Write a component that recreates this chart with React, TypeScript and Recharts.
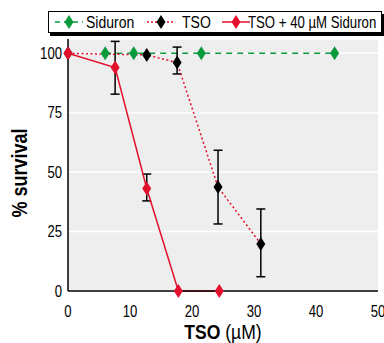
import { LineChart, Line, XAxis, YAxis, CartesianGrid, ErrorBar } from 'recharts'

document.body.style.margin = '0'

const FONT = "'Liberation Sans', Arial, sans-serif"
const GREEN = '#0a9a3e'
const RED = '#e3102d'

const xTicks = [0, 10, 20, 30, 40, 50]
const yTicks = [0, 25, 50, 75, 100]

// Siduron alone
const siduronX = [6.0, 10.6, 21.5, 43.0]
const siduronY = [100, 100, 100, 100]

// TSO alone
const tsoX = [0, 12.7, 17.6, 24.2, 31.1]
const tsoY = [100, 99.3, 96.1, 43.7, 19.8]
const tsoLow = [null, null, 91.3, 28.2, 6.0]
const tsoHigh = [null, null, 102.6, 59.2, 34.5]

// TSO + 40 µM Siduron
const comboX = [0, 7.6, 12.7, 17.8, 24.4]
const comboY = [100, 94.0, 43.1, 0, 0]
const comboLow = [null, 82.8, 37.9, null, null]
const comboHigh = [null, 105.0, 49.2, null, null]

type Pt = { x: number; y: number; err?: [number, number] }

function build(xs: number[], ys: number[], lo?: (number | null)[], hi?: (number | null)[]): Pt[] {
  return xs.map((x, i) => {
    const p: Pt = { x, y: ys[i] }
    if (lo && hi && lo[i] != null && hi[i] != null) {
      p.err = [ys[i] - (lo[i] as number), (hi[i] as number) - ys[i]]
    }
    return p
  })
}

const siduronData = build(siduronX, siduronY)
const tsoData = build(tsoX, tsoY, tsoLow, tsoHigh)
const comboData = build(comboX, comboY, comboLow, comboHigh)

// condensed look: squeeze text horizontally
function Narrow({ x, y, size, squeeze = 0.82, anchor = 'start', rotate = 0, bold = false, children }: any) {
  return (
    <text
      transform={`translate(${x} ${y}) rotate(${rotate}) scale(${squeeze} 1)`}
      textAnchor={anchor}
      fontFamily={FONT}
      fontSize={size}
      fontWeight={bold ? 'bold' : 'normal'}
      fill="#000"
    >
      {children}
    </text>
  )
}

function XTick({ x, y, payload }: any) {
  return <Narrow x={x} y={y + 18} size={16} anchor="middle">{payload.value}</Narrow>
}

function YTick({ x, y, payload }: any) {
  return <Narrow x={x} y={y + 5.5} size={16} anchor="end">{payload.value}</Narrow>
}

function diamond(fill: string) {
  return (props: any) => {
    const { cx, cy, index } = props
    if (cx == null || cy == null) return <g key={index} />
    return (
      <polygon
        key={index}
        points={`${cx},${cy - 7} ${cx + 4.5},${cy} ${cx},${cy + 7} ${cx - 4.5},${cy}`}
        fill={fill}
      />
    )
  }
}

function LegendIcon({ x, color, dash, dot }: { x: number; color: string; dash?: string; dot: string }) {
  return (
    <g>
      <line x1={x - 14} x2={x + 14} y1={10} y2={10} stroke={color} strokeWidth={1.5} strokeDasharray={dash} />
      <polygon points={`${x},${3} ${x + 4.5},${10} ${x},${17} ${x - 4.5},${10}`} fill={dot} />
    </g>
  )
}

function LegendBox() {
  return (
    <div
      style={{
        position: 'absolute',
        top: 11,
        left: 48,
        width: 332,
        height: 20,
        border: '1px solid #000',
        boxShadow: '2px 3px 0 #000',
        background: '#fff',
      }}
    >
      <svg width={332} height={20} style={{ display: 'block' }}>
        <LegendIcon x={20} color={GREEN} dash="5 4" dot={GREEN} />
        <Narrow x={37} y={16} size={16.5} squeeze={0.85}>Siduron</Narrow>
        <LegendIcon x={112} color={RED} dash="2 2" dot="#000" />
        <Narrow x={133} y={16} size={16.5} squeeze={0.85}>TSO</Narrow>
        <LegendIcon x={187} color={RED} dot={RED} />
        <Narrow x={199} y={16} size={16.5} squeeze={0.8}>TSO + 40 µM Siduron</Narrow>
      </svg>
    </div>
  )
}

export default function App() {
  return (
    <div style={{ position: 'relative', width: 384, height: 343 }}>
      <LineChart width={384} height={343} margin={{ top: 39, right: 6, left: 0, bottom: 0 }}>
        <CartesianGrid vertical={false} stroke="#ffffff" strokeWidth={1.5} fill="#eeeeee" />
        <XAxis
          type="number"
          dataKey="x"
          domain={[0, 50]}
          ticks={xTicks}
          interval={0}
          height={52}
          tickLine={false}
          axisLine={{ stroke: '#000', strokeWidth: 1.5 }}
          tick={<XTick />}
          label={{
            content: () => (
              <text transform="translate(223 339) scale(0.9 1)" textAnchor="middle" fontFamily={FONT} fontSize={19.5} fill="#000">
                <tspan fontWeight="bold">TSO</tspan>
                <tspan> (µM)</tspan>
              </text>
            ),
          }}
        />
        <YAxis
          type="number"
          domain={[0, 106]}
          ticks={yTicks}
          interval={0}
          width={68}
          tickLine={false}
          axisLine={{ stroke: '#000', strokeWidth: 1.5 }}
          tick={<YTick />}
          tickSize={0}
          tickMargin={6}
          label={{
            content: () => (
              <Narrow x={27} y={173} size={22} bold anchor="middle" rotate={-90}>% survival</Narrow>
            ),
          }}
        />
        <Line
          data={siduronData}
          dataKey="y"
          stroke={GREEN}
          strokeWidth={1.5}
          strokeDasharray="6 5"
          dot={diamond(GREEN)}
          activeDot={false}
          isAnimationActive={false}
        />
        <Line
          data={tsoData}
          dataKey="y"
          stroke={RED}
          strokeWidth={1.5}
          strokeDasharray="2 2.5"
          dot={diamond('#000')}
          activeDot={false}
          isAnimationActive={false}
        >
          <ErrorBar dataKey="err" direction="y" width={4.5} stroke="#000" strokeWidth={1.5} />
        </Line>
        <Line
          data={comboData}
          dataKey="y"
          stroke={RED}
          strokeWidth={1.5}
          dot={diamond(RED)}
          activeDot={false}
          isAnimationActive={false}
        >
          <ErrorBar dataKey="err" direction="y" width={4.5} stroke="#000" strokeWidth={1.5} />
        </Line>
      </LineChart>
      <LegendBox />
    </div>
  )
}
